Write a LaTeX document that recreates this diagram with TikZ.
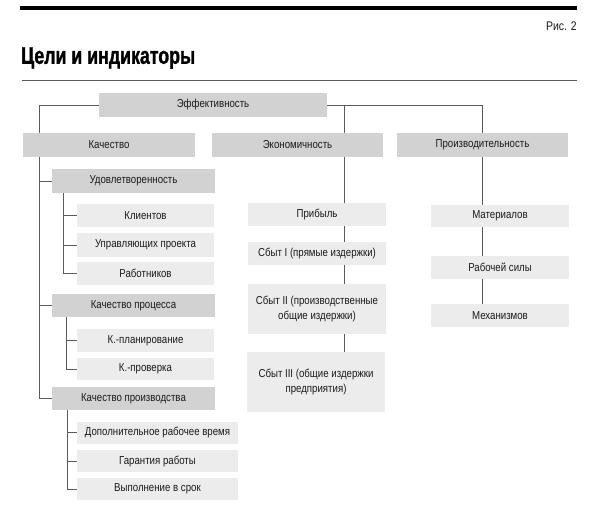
\documentclass[tikz,border=0pt]{standalone}
\usepackage{fontspec}
\setmainfont{Liberation Sans}[FakeStretch=0.84]
\newfontfamily\titlefont{Liberation Sans Bold}[FakeStretch=0.74, FakeBold=1.2]
\definecolor{darkbox}{HTML}{D2D2D2}
\definecolor{lightbox}{HTML}{ECECEC}
\definecolor{linec}{HTML}{5A5A5A}
\definecolor{txt}{HTML}{1A1A1A}
\tikzset{
  boxbase/.style={rectangle, inner sep=0pt, align=center, text=txt, font=\fontsize{11.5}{13.4}\selectfont},
  darkb/.style={boxbase, fill=darkbox},
  lightb/.style={boxbase, fill=lightbox},
  conn/.style={draw=linec, line width=0.9pt},
}
\begin{document}
\begin{tikzpicture}[x=1pt,y=-1pt]
\useasboundingbox[fill=white] (0,0) rectangle (600,522);
% header
\coordinate (r1a) at (20,8);
\coordinate (r1b) at (577,8);
\draw[line width=4pt, black] (r1a) -- (r1b);
\node[anchor=east, inner sep=0pt, text=txt, font=\fontsize{12.5}{14}\selectfont] (fig) at (577,26) {Рис. 2};
\node[anchor=west, inner sep=0pt, text=black, font=\titlefont\fontsize{24}{26}\selectfont] (title) at (21,58) {Цели и индикаторы};
\coordinate (r2a) at (22,80);
\coordinate (r2b) at (577,80);
\draw[line width=0.9pt, linec] (r2a) -- (r2b);

% trunk x positions
\coordinate (t1) at (39,0);
\coordinate (t2) at (344,0);
\coordinate (t3) at (63,0);
\coordinate (t4) at (66,0);
\coordinate (t5) at (67,0);

% level 0/1
\node[darkb, minimum width=228, minimum height=24] (eff) at (213,105) {Эффективность};
\node[darkb, minimum width=172, minimum height=24] (kach) at (109,145) {Качество};
\node[darkb, minimum width=171, minimum height=24] (ekon) at (297.5,145) {Экономичность};
\node[darkb, minimum width=171, minimum height=24] (proizv) at (482.5,145) {Производительность};

% quality subtree
\node[darkb, minimum width=163, minimum height=24] (udov) at (133.5,181) {Удовлетворенность};
\node[lightb, minimum width=137, minimum height=23] (klient) at (145.5,215.5) {Клиентов};
\node[lightb, minimum width=137, minimum height=24] (upr) at (145.5,245) {Управляющих проекта};
\node[lightb, minimum width=137, minimum height=23] (rab) at (145.5,273.5) {Работников};
\node[darkb, minimum width=163, minimum height=23] (kproc) at (133.5,305.5) {Качество процесса};
\node[lightb, minimum width=137, minimum height=23] (kplan) at (145.5,340.5) {К.-планирование};
\node[lightb, minimum width=137, minimum height=22] (kprov) at (145.5,369) {К.-проверка};
\node[darkb, minimum width=163, minimum height=23] (kproizv) at (133.5,398.5) {Качество производства};
\node[lightb, minimum width=161, minimum height=22] (dop) at (157.5,432.5) {Дополнительное рабочее время};
\node[lightb, minimum width=161, minimum height=22] (gar) at (157.5,461) {Гарантия работы};
\node[lightb, minimum width=161, minimum height=22] (vyp) at (157.5,489) {Выполнение в срок};

% economy column
\node[lightb, minimum width=138, minimum height=23] (prib) at (317,214.5) {Прибыль};
\node[lightb, minimum width=138, minimum height=23] (sbyt1) at (317,253.5) {Сбыт I (прямые издержки)};
\node[lightb, minimum width=138, minimum height=50] (sbyt2) at (317,309) {Сбыт II (производственные\\[1pt]общие издержки)};
\node[lightb, minimum width=138, minimum height=60] (sbyt3) at (316,382) {Сбыт III (общие издержки\\[1pt]предприятия)};

% productivity column
\node[lightb, minimum width=138, minimum height=22] (mat) at (500,216) {Материалов};
\node[lightb, minimum width=138, minimum height=23] (rabs) at (500,267.5) {Рабочей силы};
\node[lightb, minimum width=138, minimum height=23] (mech) at (500,315.5) {Механизмов};

% connectors top
\draw[conn] (eff.west) -| (kach.north -| t1);
\draw[conn] (eff.east) -| (proizv.north);
\draw[conn] (eff.east -| t2) -- (ekon.north -| t2);
% economy
\draw[conn] (ekon.south -| t2) -- (prib.north -| t2);
\draw[conn] (prib.south -| t2) -- (sbyt1.north -| t2);
\draw[conn] (sbyt1.south -| t2) -- (sbyt2.north -| t2);
\draw[conn] (sbyt2.south -| t2) -- (sbyt3.north -| t2);
% productivity
\draw[conn] (proizv.south) -- (mat.north -| proizv.south);
\draw[conn] (mat.south -| proizv.south) -- (rabs.north -| proizv.south);
\draw[conn] (rabs.south -| proizv.south) -- (mech.north -| proizv.south);
% quality trunk
\draw[conn] (kach.south -| t1) |- (kproizv.west);
\draw[conn] (t1 |- udov.west) -- (udov.west);
\draw[conn] (t1 |- kproc.west) -- (kproc.west);
% satisfaction
\draw[conn] (udov.south -| t3) |- (rab.west);
\draw[conn] (t3 |- klient.west) -- (klient.west);
\draw[conn] (t3 |- upr.west) -- (upr.west);
% process
\draw[conn] (kproc.south -| t4) |- (kprov.west);
\draw[conn] (t4 |- kplan.west) -- (kplan.west);
% production
\draw[conn] (kproizv.south -| t5) |- (vyp.west);
\draw[conn] (t5 |- dop.west) -- (dop.west);
\draw[conn] (t5 |- gar.west) -- (gar.west);
\end{tikzpicture}
\end{document}
